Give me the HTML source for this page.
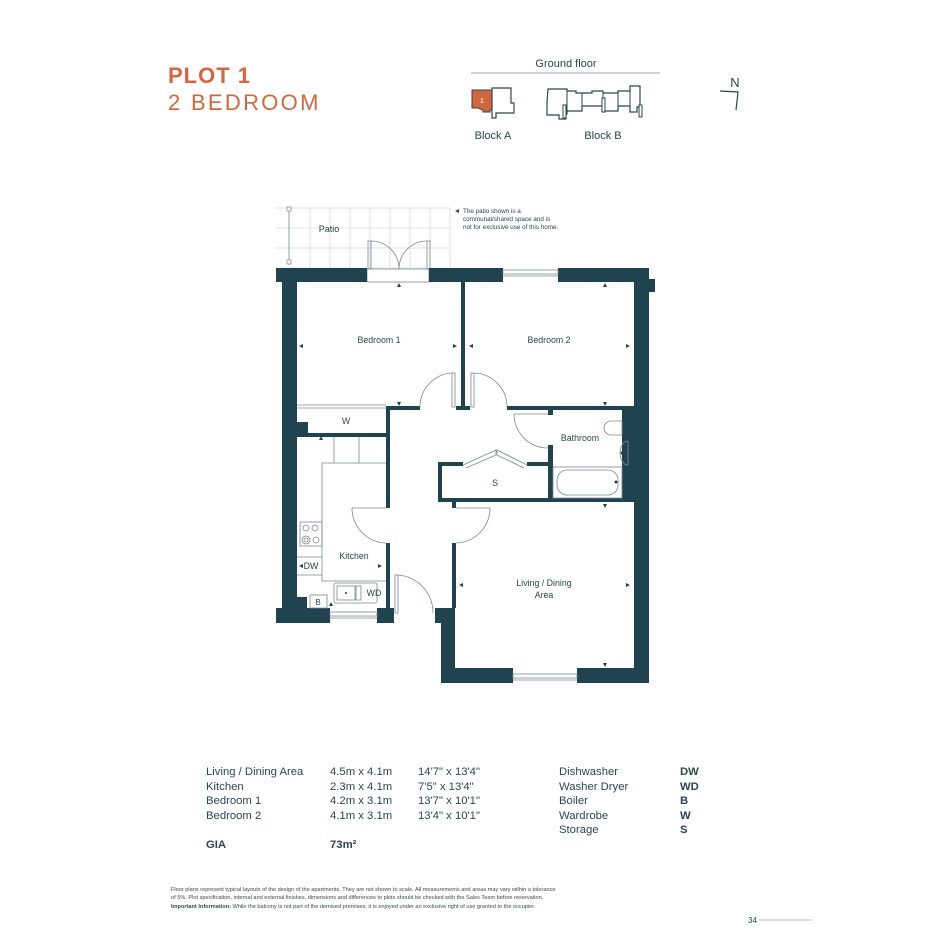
<!DOCTYPE html>
<html><head><meta charset="utf-8"><style>
html,body{margin:0;padding:0;background:#fff;}
body{width:945px;height:945px;position:relative;overflow:hidden;font-family:"Liberation Sans",sans-serif;color:#2b4650;}
.t{position:absolute;white-space:nowrap;}
</style></head><body>
<div class="t" style="left:168px;top:63px;font-size:22px;font-weight:bold;color:#d2673f;letter-spacing:1px;">PLOT 1</div>
<div class="t" style="left:168px;top:90px;font-size:22px;color:#d2673f;letter-spacing:2.3px;">2 BEDROOM</div>

<svg width="945" height="945" style="position:absolute;left:0;top:0" xmlns="http://www.w3.org/2000/svg" font-family="Liberation Sans, sans-serif">
<!-- key plan -->
<text x="566" y="67" font-size="11" fill="#2b4650" text-anchor="middle">Ground floor</text>
<line x1="471" y1="73" x2="660" y2="73" stroke="#9aa6ab" stroke-width="1"/>
<polygon points="472,90 492,90 492,110 490,110 490,112 483,112 483,110 478,108 472,108" fill="#d2673f" stroke="#2b4650" stroke-width="1"/>
<text x="482" y="103" font-size="7" fill="#fff" text-anchor="middle">1</text>
<path d="M492,88 H511 V103 H514 V113 H496 V118 H492 Z" fill="none" stroke="#2b4650" stroke-width="1.2"/>
<path d="M548,89 H567 V91 H576 V93 H592 V91 H603 V93 H618 V91 H630 V86 H640 V107 H637 V112 H630 V106 H618 V111 H603 V106 H582 V111 H567 V114 H566 V119 H559 V115 H547 V102 Z" fill="none" stroke="#2b4650" stroke-width="1.2"/>
<g stroke="#2b4650" stroke-width="1"><line x1="567" y1="91" x2="567" y2="111"/><line x1="582" y1="93" x2="582" y2="111"/><line x1="603" y1="93" x2="603" y2="106"/><line x1="618" y1="93" x2="618" y2="106"/><line x1="630" y1="91" x2="630" y2="106"/></g>
<rect x="602" y="98" width="3" height="14" fill="#fff" stroke="#2b4650"/>
<rect x="563" y="105" width="3" height="13" fill="#fff" stroke="#2b4650"/>
<rect x="639" y="105" width="3" height="12" fill="#fff" stroke="#2b4650"/>
<text x="493" y="139" font-size="11" fill="#2b4650" text-anchor="middle">Block A</text>
<text x="603" y="139" font-size="11" fill="#2b4650" text-anchor="middle">Block B</text>
<text x="735" y="87" font-size="13" fill="#2b4650" text-anchor="middle">N</text>
<path d="M720,91 L738,92 L736,110" fill="none" stroke="#2b4650" stroke-width="1.2"/>

<!-- patio grid -->
<g stroke="#d3dadc" stroke-width="0.8">
<line x1="276" y1="208" x2="450" y2="208"/><line x1="276" y1="228" x2="450" y2="228"/><line x1="276" y1="248" x2="450" y2="248"/><line x1="276" y1="268" x2="450" y2="268"/>
<line x1="310" y1="208" x2="310" y2="268"/><line x1="330" y1="208" x2="330" y2="268"/><line x1="350" y1="208" x2="350" y2="268"/><line x1="370" y1="208" x2="370" y2="268"/><line x1="390" y1="208" x2="390" y2="268"/><line x1="410" y1="208" x2="410" y2="268"/><line x1="430" y1="208" x2="430" y2="268"/><line x1="450" y1="208" x2="450" y2="268"/>
</g>
<line x1="289" y1="209" x2="289" y2="265" stroke="#7a8a90" stroke-width="0.8"/>
<rect x="287" y="207" width="4" height="4" fill="#fff" stroke="#7a8a90" stroke-width="0.7"/><rect x="287" y="260" width="4" height="4" fill="#fff" stroke="#7a8a90" stroke-width="0.7"/>
<text x="329" y="232" font-size="9" fill="#2b4650" text-anchor="middle">Patio</text>
<path d="M455,211 l4,-2 v4 z" fill="#2b4650"/>
<text x="463" y="213" font-size="6.3" fill="#2b4650">The patio shown is a</text>
<text x="463" y="221" font-size="6.3" fill="#2b4650">communal/shared space and is</text>
<text x="463" y="229" font-size="6.3" fill="#2b4650">not for exclusive use of this home.</text>
<!-- patio doors -->
<g fill="none" stroke="#7a8a90" stroke-width="0.8">
<rect x="368" y="241" width="3" height="28"/><rect x="427" y="241" width="3" height="28"/>
<path d="M371,241 A28,28 0 0 1 399,269"/><path d="M427,241 A28,28 0 0 0 399,269"/>
<rect x="367" y="269" width="62" height="13"/>
</g>

<!-- walls -->
<g fill="#1f4450">
<rect x="276" y="268" width="91" height="14"/>
<rect x="429" y="268" width="74" height="14"/>
<rect x="558" y="268" width="91" height="14"/>
<rect x="649" y="279" width="6" height="13"/>
<rect x="282" y="282" width="15" height="326"/>
<rect x="634" y="282" width="15" height="401"/>
<rect x="461" y="282" width="4" height="127"/>
<rect x="386" y="406" width="34" height="4"/>
<rect x="456" y="406" width="14" height="4"/>
<rect x="507" y="406" width="127" height="4"/>
<rect x="622" y="406" width="14" height="14"/>
<rect x="548" y="406" width="5" height="9"/>
<rect x="548" y="445" width="5" height="57"/>
<rect x="296" y="433" width="90" height="4"/>
<rect x="297" y="422" width="11" height="12"/>
<rect x="386" y="406" width="4" height="102"/>
<rect x="386" y="543" width="4" height="65"/>
<rect x="297" y="597" width="10" height="11"/>
<rect x="276" y="608" width="54" height="15"/>
<rect x="377" y="608" width="17" height="15"/>
<rect x="435" y="608" width="20" height="15"/>
<rect x="441" y="608" width="14" height="75"/>
<rect x="452" y="543" width="4" height="65"/>
<rect x="441" y="668" width="72" height="15"/>
<rect x="577" y="668" width="72" height="15"/>
<rect x="438" y="462" width="4" height="40"/>
<rect x="438" y="462" width="25" height="4"/>
<rect x="527" y="462" width="26" height="4"/>
<rect x="438" y="498" width="196" height="4"/>
<rect x="452" y="502" width="4" height="6"/>
<rect x="622" y="420" width="12" height="82"/>
</g>
<!-- windows -->
<g fill="none" stroke="#7a8a90" stroke-width="0.8">
<rect x="503" y="270" width="55" height="4"/><line x1="503" y1="276" x2="558" y2="276"/>
<rect x="330" y="612" width="47" height="4"/><line x1="330" y1="618" x2="377" y2="618"/>
<rect x="513" y="674" width="64" height="4"/><line x1="513" y1="680" x2="577" y2="680"/>
<!-- doors -->
<rect x="452" y="373" width="3" height="34"/><path d="M452,373 A34,34 0 0 0 420,407"/>
<rect x="471" y="373" width="3" height="34"/><path d="M474,373 A34,34 0 0 1 507,407"/>
<line x1="514" y1="414" x2="548" y2="414" /><path d="M514,414 A34,34 0 0 0 548,448"/>
<line x1="352" y1="508" x2="386" y2="508"/><path d="M352,508 A35,35 0 0 0 386,543"/>
<line x1="456" y1="508" x2="490" y2="508"/><path d="M490,508 A35,35 0 0 1 456,543"/>
<rect x="395" y="575" width="3" height="38"/><path d="M398,575 A38,38 0 0 1 433,613"/>
<path d="M463,465 L496,450 L496,455 L466,468"/><path d="M527,465 L497,450 L497,455 L524,468"/>
<!-- wardrobe -->
<line x1="297" y1="405" x2="386" y2="405"/><line x1="297" y1="408" x2="386" y2="408"/>
<!-- kitchen -->
<line x1="334" y1="437" x2="334" y2="463"/><line x1="359" y1="437" x2="359" y2="463"/>
<polyline points="386,463 322,463 322,581 386,581"/>
<line x1="297" y1="557" x2="322" y2="557"/><line x1="297" y1="575" x2="322" y2="575"/>
<rect x="300" y="522" width="22" height="24"/>
<circle cx="306" cy="528" r="3"/><circle cx="315" cy="528" r="3"/><circle cx="306" cy="540" r="4"/><circle cx="306" cy="540" r="2"/><circle cx="316" cy="540" r="3"/>
<rect x="334" y="583" width="43" height="20" rx="2"/><rect x="337" y="586" width="18" height="14"/><rect x="356" y="586" width="5" height="14"/>
<rect x="310" y="595" width="17" height="13"/>
<!-- bathroom -->
<rect x="557" y="470" width="61" height="25" rx="10"/><rect x="553" y="467" width="69" height="31"/>
<path d="M622,421 H611 A7,7 0 0 0 611,435 H622 Z"/>
<path d="M628,441 v24 A8,12 0 0 1 628,441"/>
</g>
<g fill="#1f4450">
<path d="M397,287 l2,-4 l2,4z"/><path d="M603,287 l2,-4 l2,4z"/><path d="M397,402 l2,4 l2,-4z"/><path d="M603,402 l2,4 l2,-4z"/>
<path d="M299,346 l4,-2 v4z"/><path d="M457,346 l-4,-2 v4z"/><path d="M469,346 l4,-2 v4z"/><path d="M630,346 l-4,-2 v4z"/>
<path d="M603,504 l2,4 l2,-4z"/><path d="M603,663 l2,4 l2,-4z"/>
<path d="M459,585 l4,-2 v4z"/><path d="M630,585 l-4,-2 v4z"/>
<path d="M319,440 l2,-4 l2,4z"/><path d="M299,566 l4,-2 v4z"/><path d="M382,566 l-4,-2 v4z"/><path d="M329,606 l2,-4 l2,4z"/>
<circle cx="346" cy="593" r="1"/><circle cx="616" cy="482" r="1.5"/><circle cx="622" cy="453" r="1.5"/>
</g>
<g font-size="8.8" fill="#2b4650" text-anchor="middle">
<text x="379" y="343">Bedroom 1</text>
<text x="549" y="343">Bedroom 2</text>
<text x="580" y="441">Bathroom</text>
<text x="346" y="424">W</text>
<text x="495" y="486">S</text>
<text x="354" y="559">Kitchen</text>
<text x="311" y="569">DW</text>
<text x="374" y="596">WD</text>
<text x="318" y="605" font-size="8">B</text>
<text x="544" y="586">Living / Dining</text>
<text x="544" y="598">Area</text>
</g>

<!-- table -->
<g font-size="11.3" fill="#2b4650">
<text x="206" y="775">Living / Dining Area</text><text x="330" y="775">4.5m x 4.1m</text><text x="418" y="775">14'7" x 13'4"</text>
<text x="206" y="790">Kitchen</text><text x="330" y="790">2.3m x 4.1m</text><text x="418" y="790">7'5" x 13'4"</text>
<text x="206" y="804">Bedroom 1</text><text x="330" y="804">4.2m x 3.1m</text><text x="418" y="804">13'7" x 10'1"</text>
<text x="206" y="819">Bedroom 2</text><text x="330" y="819">4.1m x 3.1m</text><text x="418" y="819">13'4" x 10'1"</text>
<text x="206" y="848" font-weight="bold">GIA</text><text x="330" y="848" font-weight="bold">73m²</text>
<text x="559" y="775">Dishwasher</text><text x="680" y="775" font-weight="bold">DW</text>
<text x="559" y="790">Washer Dryer</text><text x="680" y="790" font-weight="bold">WD</text>
<text x="559" y="804">Boiler</text><text x="680" y="804" font-weight="bold">B</text>
<text x="559" y="819">Wardrobe</text><text x="680" y="819" font-weight="bold">W</text>
<text x="559" y="833">Storage</text><text x="680" y="833" font-weight="bold">S</text>
</g>
<g font-size="5.6" fill="#3a4a50">
<text x="171" y="891">Floor plans represent typical layouts of the design of the apartments. They are not shown to scale. All measurements and areas may vary within a tolerance</text>
<text x="171" y="899">of 5%. Plot specification, internal and external finishes, dimensions and differences to plots should be checked with the Sales Team before reservation.</text>
<text x="171" y="908"><tspan font-weight="bold">Important Information:</tspan> While the balcony is not part of the demised premises, it is enjoyed under an exclusive right of use granted to the occupier.</text>
</g>
<text x="748" y="923" font-size="8" fill="#2b4650">34</text>
<line x1="759" y1="920" x2="812" y2="920" stroke="#9aa6ab" stroke-width="0.8"/>
</svg>
</body></html>
